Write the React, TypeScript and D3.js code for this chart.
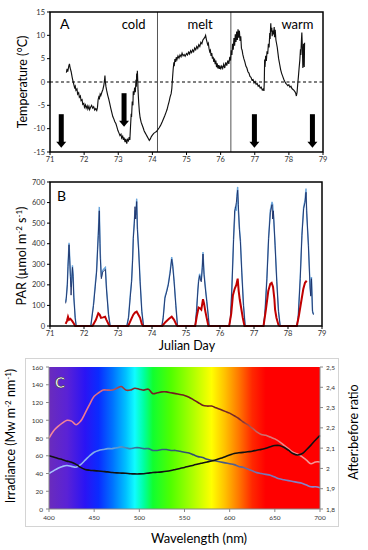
import React from "react";
import * as d3 from "d3";

// ---- panel A : temperature ----
const dayTicks = [71, 72, 73, 74, 75, 76, 77, 78, 79];
const tempTicks = [-15, -10, -5, 0, 5, 10, 15];
const tempSeries: [number, number][] = [
  [71.48, 2.0], [71.5, 2.8], [71.52, 2.2], [71.55, 3.4], [71.57, 3.9], [71.59, 3.0], [71.62, 2.2], [71.65, 1.0],
  [71.68, 0.0], [71.7, -0.6], [71.72, -1.2], [71.74, -0.9], [71.76, -1.8], [71.79, -1.5], [71.81, -2.6], [71.84, -2.3],
  [71.86, -3.3], [71.89, -3.0], [71.91, -4.0], [71.94, -3.8], [71.96, -4.8], [71.99, -4.6], [72.01, -5.4], [72.04, -4.9],
  [72.06, -5.6], [72.09, -5.1], [72.11, -5.8], [72.14, -5.2], [72.16, -5.9], [72.19, -5.4], [72.22, -5.0], [72.25, -5.6],
  [72.28, -5.3], [72.31, -6.0], [72.34, -5.7], [72.37, -6.1], [72.39, -5.5], [72.41, -3.8], [72.43, -3.2], [72.45, -3.5],
  [72.47, -2.6], [72.49, -2.9], [72.52, -2.2], [72.55, -1.6], [72.58, -0.6], [72.6, 0.6], [72.61, 1.4], [72.62, 0.2],
  [72.64, -1.0], [72.66, -1.8], [72.69, -2.8], [72.72, -3.6], [72.75, -4.6], [72.78, -5.6], [72.81, -6.5], [72.84, -7.4],
  [72.87, -7.9], [72.9, -8.5], [72.93, -8.9], [72.96, -9.6], [72.99, -10.4], [73.02, -10.9], [73.05, -11.5], [73.08, -11.2],
  [73.1, -12.0], [73.13, -11.6], [73.15, -12.4], [73.17, -11.9], [73.2, -12.9], [73.22, -12.2], [73.25, -13.2], [73.27, -12.3],
  [73.3, -12.6], [73.32, -11.8], [73.34, -12.4], [73.36, -9.5], [73.38, -6.8], [73.39, -7.5], [73.41, -4.2], [73.43, -5.0],
  [73.44, -2.0], [73.46, -2.8], [73.48, -1.2], [73.5, -2.2], [73.52, 0.5], [73.53, -1.0], [73.54, 1.8], [73.55, 0.2],
  [73.56, 2.4], [73.57, 0.6], [73.58, -1.8], [73.6, -4.5], [73.62, -6.4], [73.64, -7.6], [73.67, -8.6], [73.7, -9.2],
  [73.73, -9.8], [73.76, -10.5], [73.79, -10.9], [73.82, -11.3], [73.85, -11.7], [73.88, -12.1], [73.91, -12.5], [73.94, -12.2],
  [73.97, -11.7], [74.0, -11.4], [74.04, -11.0], [74.08, -10.8], [74.12, -10.6], [74.16, -10.2], [74.2, -9.8], [74.24, -9.3],
  [74.28, -8.7], [74.32, -8.0], [74.36, -7.3], [74.4, -6.5], [74.43, -5.9], [74.46, -5.0], [74.49, -4.2], [74.52, -3.2],
  [74.55, -2.5], [74.57, -1.4], [74.59, 0.8], [74.61, 2.8], [74.63, 4.2], [74.64, 3.4], [74.66, 4.9], [74.68, 4.3],
  [74.7, 5.3], [74.72, 4.8], [74.75, 5.6], [74.78, 5.1], [74.81, 5.8], [74.84, 5.4], [74.87, 6.2], [74.9, 5.6],
  [74.93, 5.9], [74.96, 5.5], [75.0, 6.1], [75.03, 5.8], [75.06, 6.4], [75.09, 6.0], [75.12, 6.7], [75.15, 6.3],
  [75.18, 6.9], [75.21, 6.5], [75.24, 7.3], [75.27, 6.9], [75.3, 7.6], [75.33, 7.2], [75.36, 8.0], [75.39, 7.6],
  [75.42, 8.5], [75.45, 8.2], [75.48, 9.0], [75.51, 9.3], [75.54, 9.6], [75.56, 10.0], [75.58, 9.2], [75.6, 8.6],
  [75.62, 8.0], [75.64, 8.3], [75.66, 7.2], [75.68, 6.5], [75.7, 6.8], [75.72, 5.6], [75.74, 6.2], [75.76, 5.0],
  [75.78, 5.4], [75.8, 4.3], [75.82, 5.0], [75.84, 3.8], [75.86, 4.6], [75.88, 3.2], [75.9, 4.0], [75.92, 2.9],
  [75.94, 3.6], [75.96, 2.8], [75.98, 3.5], [76.0, 2.7], [76.03, 3.4], [76.06, 2.9], [76.09, 3.8], [76.12, 3.0],
  [76.15, 4.2], [76.18, 3.5], [76.21, 4.6], [76.24, 3.9], [76.27, 5.4], [76.29, 4.6], [76.31, 6.8], [76.33, 5.8],
  [76.35, 8.2], [76.37, 6.9], [76.39, 9.4], [76.41, 7.8], [76.43, 10.2], [76.45, 8.6], [76.47, 10.8], [76.49, 9.0],
  [76.51, 11.3], [76.53, 9.5], [76.55, 11.0], [76.57, 8.8], [76.59, 9.8], [76.61, 7.2], [76.63, 6.8], [76.65, 5.9],
  [76.68, 5.0], [76.71, 4.3], [76.74, 3.4], [76.77, 3.0], [76.8, 2.2], [76.83, 1.9], [76.86, 1.2], [76.89, 1.0],
  [76.92, 0.4], [76.95, 0.5], [76.98, -0.2], [77.01, 0.1], [77.04, -0.5], [77.07, -0.3], [77.1, -0.9], [77.13, -0.7],
  [77.16, -1.3], [77.19, -1.1], [77.22, -1.7], [77.25, -1.5], [77.27, -1.9], [77.28, 0.2], [77.29, 4.8], [77.3, 3.2],
  [77.32, 5.6], [77.34, 4.5], [77.36, 6.6], [77.38, 6.0], [77.4, 8.2], [77.42, 7.4], [77.44, 10.5], [77.45, 9.2],
  [77.47, 12.6], [77.48, 10.8], [77.5, 11.6], [77.51, 9.8], [77.53, 11.0], [77.55, 10.2], [77.57, 11.8], [77.58, 9.6],
  [77.6, 11.2], [77.62, 9.0], [77.64, 8.2], [77.66, 7.4], [77.68, 6.2], [77.7, 5.0], [77.73, 3.8], [77.76, 2.6],
  [77.79, 1.8], [77.82, 1.2], [77.85, 0.6], [77.88, 0.1], [77.91, -0.3], [77.94, -0.5], [77.97, -0.8], [78.0, -0.6],
  [78.03, -1.1], [78.06, -0.9], [78.09, -1.4], [78.12, -1.6], [78.15, -1.8], [78.18, -2.1], [78.2, -2.4], [78.22, -3.0],
  [78.24, -2.2], [78.26, -0.4], [78.28, 1.2], [78.3, 3.0], [78.32, 4.6], [78.34, 7.0], [78.35, 5.8], [78.37, 9.2],
  [78.38, 10.6], [78.39, 8.4], [78.4, 6.0], [78.41, 3.0], [78.42, 5.0], [78.43, 8.2], [78.44, 6.5], [78.45, 3.2], [78.46, 8.4],
];
const periodBreaks = [74.15, 76.3];
const periodLabels = [
  { text: "cold", day: 73.45 },
  { text: "melt", day: 75.4 },
  { text: "warm", day: 78.25 },
];
const arrowDays = [71.33, 73.17, 76.99, 78.69];
const arrowTops = [-6.9, -2.4, -6.9, -6.9];
const arrowBottoms = [-14.1, -9.6, -14.1, -14.1];

// ---- panel B : PAR ----
const parTicks = [0, 100, 200, 300, 400, 500, 600, 700];
const parDays = [
  71.46, 71.48, 71.51, 71.53, 71.56, 71.58, 71.6, 71.62, 71.64, 71.66, 71.68, 71.7, 71.74, 71.77,
  72.2, 72.28, 72.33, 72.37, 72.4, 72.42, 72.45, 72.47, 72.48, 72.51, 72.55, 72.59, 72.63, 72.66, 72.72, 72.77,
  73.26, 73.31, 73.36, 73.4, 73.43, 73.45, 73.48, 73.5, 73.52, 73.55, 73.57, 73.61, 73.65, 73.7, 73.75,
  74.29, 74.33, 74.38, 74.43, 74.48, 74.53, 74.58, 74.61, 74.65, 74.7, 74.75,
  75.27, 75.31, 75.35, 75.37, 75.4, 75.43, 75.45, 75.48, 75.5, 75.53, 75.57, 75.61, 75.66, 75.68,
  76.27, 76.31, 76.35, 76.4, 76.43, 76.45, 76.48, 76.5, 76.52, 76.54, 76.57, 76.6, 76.64, 76.69, 76.74,
  77.28, 77.32, 77.38, 77.43, 77.48, 77.53, 77.55, 77.57, 77.62, 77.67, 77.72, 77.77,
  78.26, 78.3, 78.36, 78.41, 78.46, 78.5, 78.53, 78.55, 78.6, 78.65, 78.67, 78.69, 78.72, 78.75,
];
const parLight = [
  117, 141, 206, 300, 404, 335, 250, 190, 230, 295, 250, 150, 44, 0,
  0, 108, 200, 270, 380, 449, 579, 420, 352, 238, 270, 279, 285, 190, 60, 0,
  0, 44, 150, 222, 330, 433, 510, 562, 540, 619, 480, 368, 222, 76, 0,
  0, 44, 141, 170, 206, 262, 335, 300, 222, 108, 0,
  0, 76, 180, 222, 254, 230, 222, 295, 360, 260, 190, 125, 44, 0,
  0, 44, 190, 433, 520, 579, 560, 640, 676, 560, 481, 420, 270, 108, 0,
  0, 60, 238, 433, 562, 603, 590, 546, 400, 222, 76, 0,
  0, 44, 238, 449, 579, 611, 668, 540, 400, 190, 150, 238, 76, 57,
];
const parDark = [
  110, 135, 200, 290, 395, 320, 240, 150, 220, 285, 240, 140, 40, 0,
  0, 100, 190, 262, 370, 440, 560, 400, 330, 230, 262, 270, 275, 180, 55, 0,
  0, 40, 140, 215, 320, 425, 500, 580, 520, 605, 470, 355, 215, 70, 0,
  0, 40, 135, 165, 200, 255, 325, 290, 215, 100, 0,
  0, 70, 175, 215, 245, 220, 215, 285, 350, 250, 180, 120, 40, 0,
  0, 40, 185, 420, 560, 570, 600, 630, 660, 590, 470, 410, 262, 100, 0,
  0, 55, 230, 425, 550, 590, 520, 560, 390, 215, 70, 0,
  0, 40, 230, 440, 570, 600, 650, 560, 390, 185, 145, 230, 70, 55,
];
const redDays = [
  71.46, 71.5, 71.53, 71.56, 71.6, 71.65, 71.7, 71.74,
  72.25, 72.35, 72.42, 72.46, 72.5, 72.56, 72.62, 72.66, 72.72, 72.75,
  73.3, 73.38, 73.45, 73.5, 73.55, 73.6, 73.65, 73.7, 73.74,
  74.3, 74.4, 74.5, 74.58, 74.65, 74.72, 74.75,
  75.27, 75.32, 75.37, 75.42, 75.45, 75.5, 75.53, 75.57, 75.62, 75.66,
  76.27, 76.33, 76.38, 76.43, 76.48, 76.52, 76.55, 76.58, 76.62, 76.67, 76.72,
  77.28, 77.35, 77.42, 77.48, 77.52, 77.56, 77.6, 77.62, 77.66, 77.72, 77.75,
  78.26, 78.32, 78.4, 78.45, 78.5, 78.55,
];
const redPar = [
  10, 25, 45, 30, 35, 25, 12, 0,
  0, 30, 62, 55, 40, 42, 45, 30, 10, 0,
  0, 30, 55, 65, 70, 55, 40, 10, 0,
  0, 20, 35, 45, 30, 5, 0,
  0, 50, 90, 85, 80, 130, 110, 70, 30, 0,
  0, 60, 150, 180, 200, 230, 170, 130, 90, 40, 0,
  0, 80, 170, 205, 210, 190, 130, 80, 40, 5, 0,
  0, 50, 130, 180, 210, 220,
];

// ---- panel C : spectrum ----
const waveTicks = [400, 450, 500, 550, 600, 650, 700];
const irrTicks = [0, 20, 40, 60, 80, 100, 120, 140, 160];
const ratioTicks = [1.8, 1.9, 2.0, 2.1, 2.2, 2.3, 2.4, 2.5];
const wavelengths = d3.range(400, 701, 5);
const irrAfter = [
  80, 88, 93, 97, 100, 99, 95, 99, 108, 118, 127, 131, 134, 134, 134, 136, 138, 134, 134, 136, 135,
  134, 135, 130, 131, 132, 132, 131, 130, 129, 128, 126, 123, 120, 117, 116, 116, 114, 112, 110, 108,
  105, 102, 98, 95, 91, 87, 84, 83, 81, 79, 76, 72, 68, 64, 62, 59, 55, 51, 53, 53,
];
const irrBefore = [
  40, 43, 46, 48, 49, 48, 47, 50, 55, 60, 64, 66, 67, 68, 68, 69, 70, 69, 68, 69, 69,
  68, 68, 66, 66, 67, 67, 66, 66, 65, 64, 63, 61, 59, 58, 56, 55, 54, 53, 52, 51,
  50, 48, 47, 45, 43, 41, 40, 39, 38, 36, 34, 33, 32, 31, 30, 29, 27, 25, 25, 24,
];
const ratio = [
  2.063, 2.056, 2.049, 2.043, 2.036, 2.03, 2.02, 2.005, 1.995, 1.991, 1.989, 1.987, 1.985, 1.983, 1.98, 1.978,
  1.977, 1.976, 1.974, 1.973, 1.973, 1.974, 1.977, 1.98, 1.981, 1.983, 1.986, 1.99, 1.995, 2.0, 2.005,
  2.011, 2.016, 2.022, 2.027, 2.032, 2.037, 2.043, 2.05, 2.058, 2.066, 2.074, 2.077, 2.079, 2.082, 2.085,
  2.09, 2.094, 2.099, 2.107, 2.113, 2.113, 2.104, 2.09, 2.074, 2.066, 2.072, 2.092, 2.115, 2.14, 2.163,
];
const spectrumStops: [number, string][] = [
  [400, "#6a2cbc"], [420, "#5a22d6"], [440, "#2a14f4"], [455, "#0a2cff"], [470, "#0070ff"],
  [485, "#00c0ff"], [495, "#10fcff"], [505, "#00ffa0"], [515, "#10ff30"], [535, "#50ff00"],
  [560, "#b0ff00"], [580, "#ffff00"], [595, "#ffc000"], [610, "#ff7800"], [625, "#ff2800"],
  [640, "#ff0000"], [700, "#ff0000"],
];
const afterStops: [number, string][] = [
  [400, "#f4889c"], [440, "#f07a90"], [460, "#d86a7c"], [480, "#a83c3c"], [500, "#7a2424"],
  [560, "#6a1c1c"], [610, "#7a2a2a"], [630, "#c06868"], [660, "#f08888"], [700, "#f39a9a"],
];
const beforeStops: [number, string][] = [
  [400, "#a8c4ff"], [440, "#90b4f0"], [470, "#6aa0d8"], [500, "#3a6a8a"], [560, "#2e4e6e"],
  [600, "#505c86"], [630, "#7474b4"], [700, "#8a8ad0"],
];

const font = "Lato, 'Open Sans', sans-serif";

export default function App() {
  // scales
  const xA = d3.scaleLinear().domain([71, 79]).range([50, 323]);
  const yA = d3.scaleLinear().domain([-15, 15]).range([152, 12]);
  const xB = d3.scaleLinear().domain([71, 79]).range([50, 322]);
  const yB = d3.scaleLinear().domain([0, 700]).range([326, 182]);
  const xC = d3.scaleLinear().domain([400, 700]).range([49, 320]);
  const yC = d3.scaleLinear().domain([0, 160]).range([509, 367]);
  const yR = d3.scaleLinear().domain([1.8, 2.5]).range([509, 367]);

  const tempLine = d3.line<[number, number]>().x((d) => xA(d[0])).y((d) => yA(d[1]));
  const parLine = (vals: number[], days: number[]) =>
    d3.line<number>().x((_, i) => xB(days[i])).y((v) => yB(v))(vals) || "";
  const specLine = (vals: number[], y: d3.ScaleLinear<number, number>) =>
    d3
      .line<number>()
      .x((_, i) => xC(wavelengths[i]))
      .y((v) => y(v))
      .curve(d3.curveCatmullRom)(vals) || "";

  const grad = (id: string, stops: [number, string][]) => (
    <linearGradient id={id} gradientUnits="userSpaceOnUse" x1={xC(400)} x2={xC(700)} y1={0} y2={0}>
      {stops.map(([nm, c]) => (
        <stop key={nm} offset={(nm - 400) / 300} stopColor={c} />
      ))}
    </linearGradient>
  );

  const tick = { fontSize: 7.5, fill: "#333", fontFamily: font };
  const ratioFmt = (v: number) => (Math.abs(v - 2) < 1e-9 ? "2" : v.toFixed(1).replace(".", ","));

  return (
    <svg width={368} height={550} style={{ position: "absolute", left: 0, top: 0, background: "#fff" }}>
      <defs>
        {grad("spectrum", spectrumStops)}
        {grad("afterStroke", afterStops)}
        {grad("beforeStroke", beforeStops)}
      </defs>

      {/* ===== Panel A ===== */}
      <line x1={xA(71)} x2={xA(79)} y1={yA(0)} y2={yA(0)} stroke="#000" strokeWidth={1.2} strokeDasharray="3,2.5" />
      {periodBreaks.map((d) => (
        <line key={d} x1={xA(d)} x2={xA(d)} y1={yA(15)} y2={yA(-15)} stroke="#555" strokeWidth={1} />
      ))}
      <path d={tempLine(tempSeries) || ""} fill="none" stroke="#111" strokeWidth={1.15} />
      {arrowDays.map((d, i) => {
        const x = xA(d);
        const y0 = yA(arrowTops[i]);
        const y1 = yA(arrowBottoms[i]);
        return (
          <g key={d}>
            <rect x={x - 2.5} y={y0} width={5} height={y1 - y0 - 5} fill="#000" />
            <path d={`M${x - 5},${y1 - 6}L${x + 5},${y1 - 6}L${x},${y1}Z`} fill="#000" />
          </g>
        );
      })}
      <rect x={xA(71)} y={yA(15)} width={xA(79) - xA(71)} height={yA(-15) - yA(15)} fill="none" stroke="#000" strokeWidth={1.5} />
      {tempTicks.map((t) => (
        <g key={t}>
          <line x1={xA(71) - 3} x2={xA(71)} y1={yA(t)} y2={yA(t)} stroke="#000" />
          <text x={xA(71) - 5} y={yA(t) + 2.5} textAnchor="end" {...tick}>
            {t}
          </text>
        </g>
      ))}
      {dayTicks.map((t) => (
        <g key={t}>
          <line x1={xA(t)} x2={xA(t)} y1={yA(-15)} y2={yA(-15) + 3} stroke="#000" />
          <text x={xA(t)} y={yA(-15) + 10} textAnchor="middle" {...tick}>
            {t}
          </text>
        </g>
      ))}
      <text x={60} y={29} fontSize={14} fontFamily={font}>
        A
      </text>
      {periodLabels.map((p) => (
        <text key={p.text} x={xA(p.day)} y={29} fontSize={13} fontFamily={font} textAnchor="middle">
          {p.text}
        </text>
      ))}
      <text transform="translate(27,82) rotate(-90)" textAnchor="middle" fontSize={12.5} fontFamily={font}>
        Temperature (°C)
      </text>

      {/* ===== Panel B ===== */}
      <path d={parLine(parLight, parDays)} fill="none" stroke="#6aa6dc" strokeWidth={1.4} />
      <path d={parLine(parDark, parDays)} fill="none" stroke="#1c2f66" strokeWidth={0.9} />
      <path d={parLine(redPar, redDays)} fill="none" stroke="#c00000" strokeWidth={2} />
      <rect x={xB(71)} y={yB(700)} width={xB(79) - xB(71)} height={yB(0) - yB(700)} fill="none" stroke="#000" strokeWidth={1.5} />
      {parTicks.map((t) => (
        <g key={t}>
          <line x1={xB(71) - 3} x2={xB(71)} y1={yB(t)} y2={yB(t)} stroke="#000" />
          <text x={xB(71) - 5} y={yB(t) + 2.5} textAnchor="end" {...tick}>
            {t}
          </text>
        </g>
      ))}
      {dayTicks.map((t) => (
        <g key={t}>
          <line x1={xB(t)} x2={xB(t)} y1={yB(0)} y2={yB(0) + 3} stroke="#000" />
          <text x={xB(t)} y={yB(0) + 9.5} textAnchor="middle" {...tick}>
            {t}
          </text>
        </g>
      ))}
      <text x={57} y={201} fontSize={14} fontFamily={font}>
        B
      </text>
      <text transform="translate(26,256) rotate(-90)" textAnchor="middle" fontSize={12.5} fontFamily={font}>
        PAR (µmol m
        <tspan dy={-4} fontSize={8}>-2</tspan>
        <tspan dy={4}> s</tspan>
        <tspan dy={-4} fontSize={8}>-1</tspan>
        <tspan dy={4}>)</tspan>
      </text>
      <text x={187} y={350} textAnchor="middle" fontSize={12.5} fontFamily={font}>
        Julian Day
      </text>

      {/* ===== Panel C ===== */}
      <rect x={25.5} y={358.5} width={313} height={168} fill="#fff" stroke="#d4d4d4" strokeWidth={1} />
      <rect x={xC(400)} y={yC(160)} width={xC(700) - xC(400)} height={yC(0) - yC(160)} fill="url(#spectrum)" />
      <path d={specLine(irrAfter, yC)} fill="none" stroke="url(#afterStroke)" strokeWidth={1.6} />
      <path d={specLine(irrBefore, yC)} fill="none" stroke="url(#beforeStroke)" strokeWidth={1.6} />
      <path d={specLine(ratio, yR)} fill="none" stroke="#111" strokeWidth={1.6} />
      <line x1={xC(400)} x2={xC(400)} y1={yC(0)} y2={yC(160)} stroke="#888" />
      <line x1={xC(700)} x2={xC(700)} y1={yC(0)} y2={yC(160)} stroke="#888" />
      <line x1={xC(400)} x2={xC(700)} y1={yC(0)} y2={yC(0)} stroke="#888" />
      {irrTicks.map((t) => (
        <g key={t}>
          <line x1={xC(400) - 3} x2={xC(400)} y1={yC(t)} y2={yC(t)} stroke="#888" />
          <text x={xC(400) - 6} y={yC(t) + 2.5} textAnchor="end" {...tick} fontSize={6.5}>
            {t}
          </text>
        </g>
      ))}
      {ratioTicks.map((t) => (
        <g key={t}>
          <line x1={xC(700)} x2={xC(700) + 3} y1={yR(t)} y2={yR(t)} stroke="#888" />
          <text x={xC(700) + 6} y={yR(t) + 2.5} textAnchor="start" {...tick} fontSize={6.5}>
            {ratioFmt(t)}
          </text>
        </g>
      ))}
      {waveTicks.map((t) => (
        <g key={t}>
          <line x1={xC(t)} x2={xC(t)} y1={yC(0)} y2={yC(0) + 3} stroke="#888" />
          <text x={xC(t)} y={yC(0) + 11} textAnchor="middle" {...tick} fontSize={6.5}>
            {t}
          </text>
        </g>
      ))}
      <text x={55} y={388} fontSize={15} fontWeight="bold" fontFamily={font} fill="#fff" stroke="#333" strokeWidth={0.6}>
        C
      </text>
      <text transform="translate(15,436) rotate(-90)" textAnchor="middle" fontSize={12.5} fontFamily={font}>
        Irradiance (Mw m
        <tspan dy={-4} fontSize={8}>-2</tspan>
        <tspan dy={4}> nm</tspan>
        <tspan dy={-4} fontSize={8}>-1</tspan>
        <tspan dy={4}>)</tspan>
      </text>
      <text transform="translate(358,432) rotate(-90)" textAnchor="middle" fontSize={12.5} fontFamily={font}>
        After:before ratio
      </text>
      <text x={199} y={543} textAnchor="middle" fontSize={13} fontFamily={font}>
        Wavelength (nm)
      </text>
    </svg>
  );
}
